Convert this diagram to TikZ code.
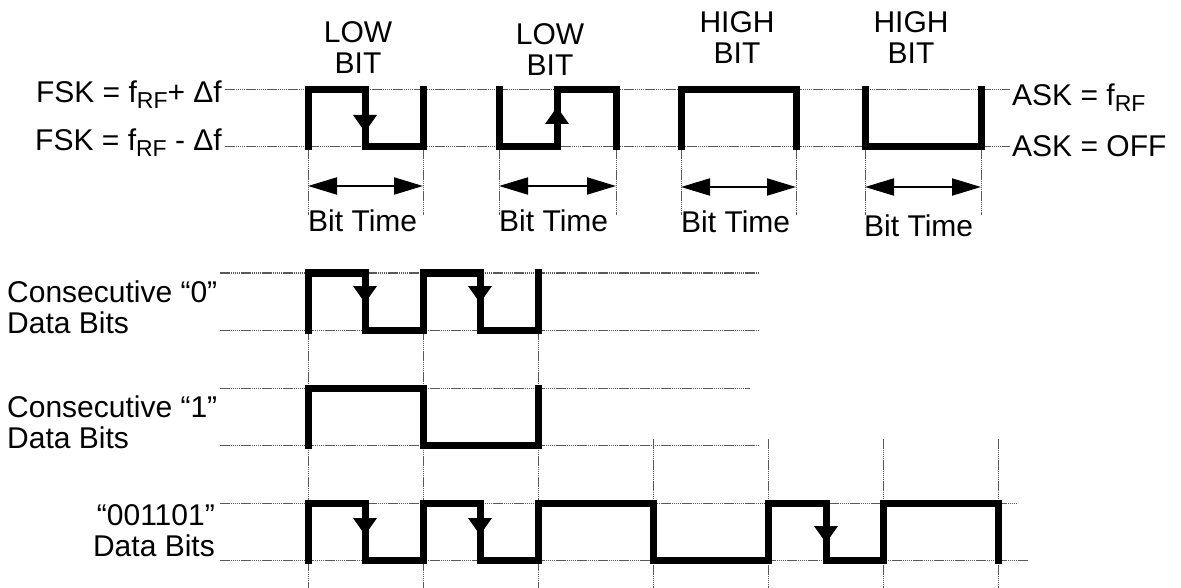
\documentclass[tikz,border=0pt]{standalone}
\usepackage{fontspec}
\setmainfont{Liberation Sans}
\usepackage{tikz}
\usetikzlibrary{arrows.meta}
\tikzset{
  wave/.style={draw=black,line width=7pt,line cap=rect,line join=miter},
  guide/.style={draw=black!65,line width=1pt,dash pattern=on 1.5pt off 0.6pt},
  bitspan/.style={{Triangle[length=29pt,width=17pt]}-{Triangle[length=29pt,width=17pt]},line width=2pt},
  lbl/.style={font=\fontsize{30}{31}\selectfont,inner sep=0pt},
}
\newcommand{\rfsub}{\raisebox{-6pt}{\fontsize{23}{23}\selectfont RF}}
\newcommand{\dntri}[2]{\fill (#1-12,#2-17) -- (#1+12,#2-17) -- (#1,#2) -- cycle;}
\newcommand{\uptri}[2]{\fill (#1-12,#2+17) -- (#1+12,#2+17) -- (#1,#2) -- cycle;}

\begin{document}
\begin{tikzpicture}[x=1pt,y=-1pt]
  \useasboundingbox (0,0) rectangle (1181,588);
  \node[lbl,align=center] (low1) at (358,48) {LOW\\BIT};
  \node[lbl,align=center] (low2) at (550,50) {LOW\\BIT};
  \node[lbl,align=center] (high1) at (737,38) {HIGH\\BIT};
  \node[lbl,align=center] (high2) at (911,38) {HIGH\\BIT};
  \node[lbl,anchor=base east] (fskhi) at (222,103) {FSK = f\rfsub+ Δf};
  \node[lbl,anchor=base east] (fsklo) at (222,151) {FSK = f\rfsub\ - Δf};
  \node[lbl,anchor=base west] (askon) at (1012,106) {ASK = f\rfsub};
  \node[lbl,anchor=base west] (askoff) at (1012,157) {ASK = OFF};
  \node[lbl,anchor=base west] (bt1) at (308,232) {Bit Time};
  \node[lbl,anchor=base west] (bt2) at (499,232) {Bit Time};
  \node[lbl,anchor=base west] (bt3) at (681,233) {Bit Time};
  \node[lbl,anchor=base west] (bt4) at (864,237) {Bit Time};
  \node[lbl,align=left,anchor=west] (zeros) at (7,307) {Consecutive “0”\\Data Bits};
  \node[lbl,align=left,anchor=west] (ones) at (7,422) {Consecutive “1”\\Data Bits};
  \node[lbl,align=right,anchor=east] (mixed) at (215,531) {“001101”\\Data Bits};
  \draw[guide] (225,90) -- (1010,90);
  \draw[guide] (225,147) -- (1010,147);
  \foreach \x in {308,423,499,616,681,796,865,981} \draw[guide] (\x,147) -- (\x,215);
  \draw[guide] (220,273) -- (759,273);
  \draw[guide] (220,330) -- (759,330);
  \draw[guide] (220,388) -- (750,388);
  \draw[guide] (220,445) -- (759,445);
  \draw[guide] (220,503) -- (1018,503);
  \draw[guide] (220,560) -- (1028,560);
  \foreach \x in {308,423,538} \draw[guide] (\x,330) -- (\x,588);
  \foreach \x in {653,768,883,998} \draw[guide] (\x,439) -- (\x,588);
  \draw[wave] (308,147) -- (308,90) -- (365,90) -- (365,147) -- (423,147) -- (423,90);
  \draw[wave] (499,90) -- (499,147) -- (557,147) -- (557,90) -- (616,90) -- (616,147);
  \draw[wave] (681,147) -- (681,90) -- (796,90) -- (796,147);
  \draw[wave] (865,90) -- (865,147) -- (981,147) -- (981,90);
  \dntri{365}{132}
  \uptri{557}{107}
  \draw[bitspan] (308,186) -- (423,186);
  \draw[bitspan] (499,186) -- (616,186);
  \draw[bitspan] (681,187) -- (796,187);
  \draw[bitspan] (865,187) -- (981,187);
  \draw[wave] (308,330) -- (308,273) -- (365,273) -- (365,330) -- (423,330) -- (423,273)
    -- (480,273) -- (480,330) -- (538,330) -- (538,273);
  \dntri{365}{303}
  \dntri{480}{303}
  \draw[wave] (308,445) -- (308,388) -- (423,388) -- (423,445) -- (538,445) -- (538,388);
  \draw[wave] (308,560) -- (308,503) -- (365,503) -- (365,560) -- (423,560) -- (423,503)
    -- (480,503) -- (480,560) -- (538,560) -- (538,503) -- (653,503) -- (653,560)
    -- (768,560) -- (768,503) -- (826,503) -- (826,560) -- (883,560) -- (883,503)
    -- (998,503) -- (998,560);
  \dntri{365}{535}
  \dntri{480}{535}
  \dntri{826}{543}
\end{tikzpicture}
\end{document}
